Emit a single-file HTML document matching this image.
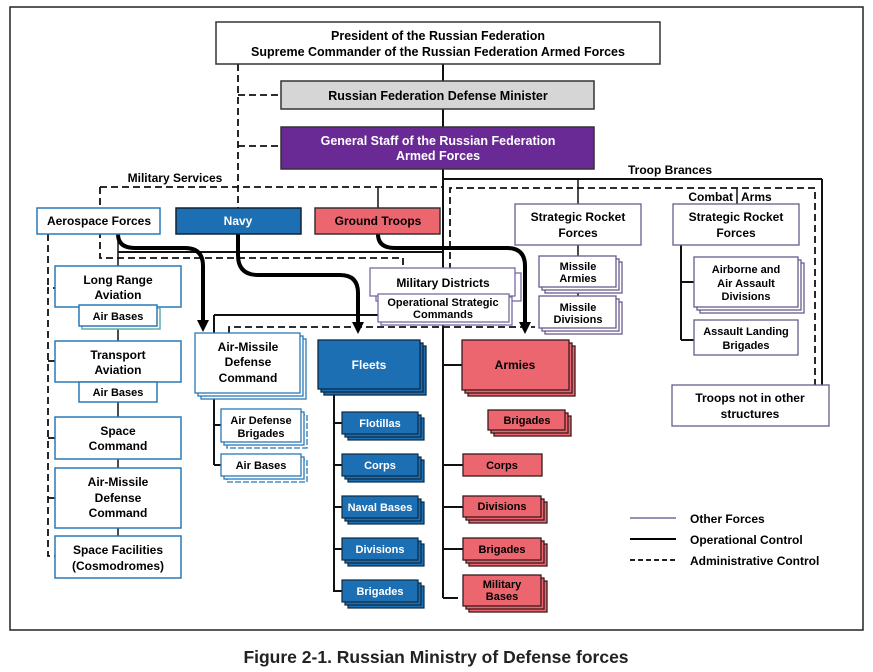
<!DOCTYPE html>
<html><head><meta charset="utf-8"><style>
html,body{margin:0;padding:0;background:#fff;width:873px;height:672px;overflow:hidden}
svg text{font-family:"Liberation Sans",Arial,sans-serif;font-weight:bold;text-anchor:middle}
</style></head><body>
<svg width="873" height="672" viewBox="0 0 873 672" xmlns="http://www.w3.org/2000/svg">
<rect x="10" y="7" width="853" height="623" fill="#fff" stroke="#222" stroke-width="1.5"/>

<g fill="none" stroke="#111" stroke-width="2">
<line x1="443" y1="64" x2="443" y2="598"/>
<line x1="443" y1="179" x2="822" y2="179"/><line x1="822" y1="179" x2="822" y2="385"/>
<line x1="118" y1="252" x2="443" y2="252"/>
<line x1="118" y1="234" x2="118" y2="578" stroke-width="1.5"/>
<line x1="214" y1="315" x2="378" y2="315"/><line x1="214" y1="315" x2="214" y2="333"/>
<line x1="214" y1="393" x2="214" y2="465"/><line x1="214" y1="425" x2="221" y2="425"/><line x1="214" y1="465" x2="221" y2="465"/>
<line x1="334" y1="389" x2="334" y2="592"/>
<line x1="334" y1="423" x2="342" y2="423"/><line x1="334" y1="465" x2="342" y2="465"/><line x1="334" y1="507" x2="342" y2="507"/><line x1="334" y1="549" x2="342" y2="549"/><line x1="334" y1="591" x2="342" y2="591"/>
<line x1="443" y1="365" x2="462" y2="365"/><line x1="443" y1="465" x2="463" y2="465"/><line x1="443" y1="507" x2="463" y2="507"/><line x1="443" y1="549" x2="463" y2="549"/><line x1="443" y1="598" x2="458" y2="598"/>
<line x1="578" y1="179" x2="578" y2="204" stroke-width="1.5"/>
<line x1="578" y1="245" x2="578" y2="296" stroke-width="1.5"/>
<line x1="737" y1="188" x2="737" y2="207" stroke-width="1.5"/>
<line x1="681" y1="245" x2="681" y2="340"/><line x1="681" y1="282" x2="694" y2="282"/><line x1="681" y1="340" x2="694" y2="340"/>
<line x1="378" y1="187" x2="378" y2="208" stroke-width="1.5"/>
</g>
<g fill="none" stroke="#111" stroke-width="1.8" stroke-dasharray="7,4">
<line x1="238" y1="64" x2="238" y2="208"/>
<polyline points="238,95 281,95"/><polyline points="238,146 281,146"/>
<line x1="100" y1="187" x2="443" y2="187"/>
<polyline points="100,187 100,258 403,258 403,268"/>
<polyline points="450,325 450,188 815,188 815,385"/>
<polyline points="229,333 229,327 535,327"/>
<polyline points="60,288 48,288 48,556 55,556"/>
<line x1="48" y1="361" x2="55" y2="361"/><line x1="48" y1="438" x2="55" y2="438"/><line x1="48" y1="498" x2="55" y2="498"/>
<line x1="48" y1="234" x2="48" y2="290"/>
</g>
<g fill="none" stroke="#000" stroke-width="4">
<path d="M118,234 Q118,248 135,248 L185,248 Q203,248 203,266 L203,322"/>
<path d="M238,234 L238,255 Q238,275 258,275 L340,275 Q358,275 358,293 L358,325"/>
<path d="M378,234 Q378,248 395,248 L507,248 Q525,248 525,266 L525,325"/>
</g>
<g fill="#000"><path d="M197,320 L209,320 L203,332Z"/><path d="M352,322 L364,322 L358,334Z"/><path d="M519,322 L531,322 L525,334Z"/></g>

<rect x="216" y="22" width="444" height="42" fill="#fff" stroke="#333" stroke-width="1.5"/>
<text x="438" y="40" font-size="12.5">President of the Russian Federation</text>
<text x="438" y="56" font-size="12.5">Supreme Commander of the Russian Federation Armed Forces</text>
<rect x="281" y="81" width="313" height="28" fill="#d6d6d6" stroke="#333" stroke-width="1.5"/>
<text x="438" y="100" font-size="12.5">Russian Federation Defense Minister</text>
<rect x="281" y="127" width="313" height="42" fill="#6a2a95" stroke="#333" stroke-width="1.5"/>
<text x="438" y="145" font-size="12.5" fill="#fff">General Staff of the Russian Federation</text>
<text x="438" y="160" font-size="12.5" fill="#fff">Armed Forces</text>

<text x="175" y="182" font-size="12">Military Services</text>
<text x="670" y="174" font-size="12">Troop Brances</text>
<text x="733" y="201" font-size="12" style="text-anchor:end">Combat</text><text x="741" y="201" font-size="12" style="text-anchor:start">Arms</text>

<rect x="37" y="208" width="123" height="26" fill="#fff" stroke="#2a7ab8" stroke-width="1.5"/>
<text x="99" y="225" font-size="12">Aerospace Forces</text>
<rect x="176" y="208" width="125" height="26" fill="#1d6fb3" stroke="#123" stroke-width="1.5"/>
<text x="238" y="225" font-size="12" fill="#fff">Navy</text>
<rect x="315" y="208" width="125" height="26" fill="#ec6670" stroke="#333" stroke-width="1.5"/>
<text x="378" y="225" font-size="12">Ground Troops</text>

<g fill="#fff" stroke="#2a7ab8" stroke-width="1.5">
<rect x="55" y="266" width="126" height="41"/>
<rect x="82" y="308" width="78" height="21" stroke="#6aa"/>
<rect x="79" y="305" width="78" height="21"/>
<rect x="55" y="341" width="126" height="41"/>
<rect x="79" y="382" width="78" height="20"/>
<rect x="55" y="417" width="126" height="42"/>
<rect x="55" y="468" width="126" height="60"/>
<rect x="55" y="536" width="126" height="42"/>
</g>
<g font-size="12">
<text x="118" y="284">Long Range</text><text x="118" y="299">Aviation</text>
<text x="118" y="320" font-size="11">Air Bases</text>
<text x="118" y="359">Transport</text><text x="118" y="374">Aviation</text>
<text x="118" y="396" font-size="11">Air Bases</text>
<text x="118" y="435">Space</text><text x="118" y="450">Command</text>
<text x="118" y="486">Air-Missile</text><text x="118" y="502">Defense</text><text x="118" y="517">Command</text>
<text x="118" y="554">Space Facilities</text><text x="118" y="570">(Cosmodromes)</text>
</g>

<g fill="#fff" stroke="#2a7ab8" stroke-width="1.3">
<rect x="201" y="339" width="105" height="60"/><rect x="198" y="336" width="105" height="60"/><rect x="195" y="333" width="105" height="60"/>
<rect x="227" y="415" width="80" height="33" stroke-dasharray="6,2"/><rect x="224" y="412" width="80" height="33"/><rect x="221" y="409" width="80" height="33"/>
<rect x="227" y="460" width="80" height="22" stroke-dasharray="6,2"/><rect x="224" y="457" width="80" height="22"/><rect x="221" y="454" width="80" height="22"/>
</g>
<g font-size="12"><text x="248" y="351">Air-Missile</text><text x="248" y="366">Defense</text><text x="248" y="382">Command</text></g>
<g font-size="11"><text x="261" y="424">Air Defense</text><text x="261" y="437">Brigades</text><text x="261" y="469">Air Bases</text></g>

<g fill="#fff" stroke="#7a6aa0" stroke-width="1.3">
<rect x="376" y="273" width="145" height="28"/><rect x="370" y="268" width="145" height="28"/>
<rect x="381" y="297" width="131" height="28"/><rect x="378" y="294" width="131" height="28"/>
</g>
<text x="443" y="287" font-size="12">Military Districts</text>
<text x="443" y="306" font-size="11">Operational Strategic</text><text x="443" y="318" font-size="11">Commands</text>

<g fill="#1d6fb3" stroke="#0d2a45" stroke-width="1.3">
<rect x="324" y="346" width="102" height="49"/><rect x="321" y="343" width="102" height="49"/><rect x="318" y="340" width="102" height="49"/>
</g>
<text x="369" y="369" font-size="12" fill="#fff">Fleets</text>
<g fill="#1d6fb3" stroke="#0d2a45" stroke-width="1.2">
<rect x="348" y="418" width="76" height="22"/><rect x="345" y="415" width="76" height="22"/><rect x="342" y="412" width="76" height="22"/>
<rect x="348" y="460" width="76" height="22"/><rect x="345" y="457" width="76" height="22"/><rect x="342" y="454" width="76" height="22"/>
<rect x="348" y="502" width="76" height="22"/><rect x="345" y="499" width="76" height="22"/><rect x="342" y="496" width="76" height="22"/>
<rect x="348" y="544" width="76" height="22"/><rect x="345" y="541" width="76" height="22"/><rect x="342" y="538" width="76" height="22"/>
<rect x="348" y="586" width="76" height="22"/><rect x="345" y="583" width="76" height="22"/><rect x="342" y="580" width="76" height="22"/>
</g>
<g font-size="11" fill="#fff"><text x="380" y="427">Flotillas</text><text x="380" y="469">Corps</text><text x="380" y="511">Naval Bases</text><text x="380" y="553">Divisions</text><text x="380" y="595">Brigades</text></g>

<g fill="#ec6670" stroke="#3a1a1a" stroke-width="1.3">
<rect x="468" y="346" width="107" height="50"/><rect x="465" y="343" width="107" height="50"/><rect x="462" y="340" width="107" height="50"/>
<rect x="494" y="416" width="77" height="20"/><rect x="491" y="413" width="77" height="20"/><rect x="488" y="410" width="77" height="20"/>
<rect x="463" y="454" width="79" height="22"/>
<rect x="469" y="502" width="78" height="21"/><rect x="466" y="499" width="78" height="21"/><rect x="463" y="496" width="78" height="21"/>
<rect x="469" y="544" width="78" height="22"/><rect x="466" y="541" width="78" height="22"/><rect x="463" y="538" width="78" height="22"/>
<rect x="469" y="581" width="78" height="31"/><rect x="466" y="578" width="78" height="31"/><rect x="463" y="575" width="78" height="31"/>
</g>
<text x="515" y="369" font-size="12">Armies</text>
<g font-size="11"><text x="527" y="424">Brigades</text><text x="502" y="469">Corps</text><text x="502" y="510">Divisions</text><text x="502" y="553">Brigades</text><text x="502" y="588">Military</text><text x="502" y="600">Bases</text></g>

<g fill="#fff" stroke="#6a5a8a" stroke-width="1.3">
<rect x="515" y="204" width="126" height="41"/>
<rect x="545" y="262" width="77" height="31"/><rect x="542" y="259" width="77" height="31"/><rect x="539" y="256" width="77" height="31"/>
<rect x="545" y="302" width="77" height="32"/><rect x="542" y="299" width="77" height="32"/><rect x="539" y="296" width="77" height="32"/>
<rect x="673" y="204" width="126" height="41"/>
<rect x="700" y="263" width="104" height="50"/><rect x="697" y="260" width="104" height="50"/><rect x="694" y="257" width="104" height="50"/>
<rect x="694" y="320" width="104" height="35"/>
<rect x="672" y="385" width="157" height="41"/>
</g>
<g font-size="12"><text x="578" y="221">Strategic Rocket</text><text x="578" y="237">Forces</text>
<text x="736" y="221">Strategic Rocket</text><text x="736" y="237">Forces</text>
<text x="750" y="402">Troops not in other</text><text x="750" y="418">structures</text></g>
<g font-size="11"><text x="578" y="270">Missile</text><text x="578" y="282">Armies</text>
<text x="578" y="311">Missile</text><text x="578" y="323">Divisions</text>
<text x="746" y="273">Airborne and</text><text x="746" y="287">Air Assault</text><text x="746" y="300">Divisions</text>
<text x="746" y="335">Assault Landing</text><text x="746" y="349">Brigades</text></g>

<line x1="630" y1="518" x2="676" y2="518" stroke="#7a6aa0" stroke-width="1.5"/>
<line x1="630" y1="539" x2="676" y2="539" stroke="#000" stroke-width="2"/>
<line x1="630" y1="560" x2="676" y2="560" stroke="#000" stroke-width="1.8" stroke-dasharray="5,3"/>
<g font-size="12"><text x="690" y="523" style="text-anchor:start">Other Forces</text><text x="690" y="544" style="text-anchor:start">Operational Control</text><text x="690" y="565" style="text-anchor:start">Administrative Control</text></g>

<text x="436" y="663" font-size="17.5" fill="#222">Figure 2-1. Russian Ministry of Defense forces</text>
</svg>
</body></html>
